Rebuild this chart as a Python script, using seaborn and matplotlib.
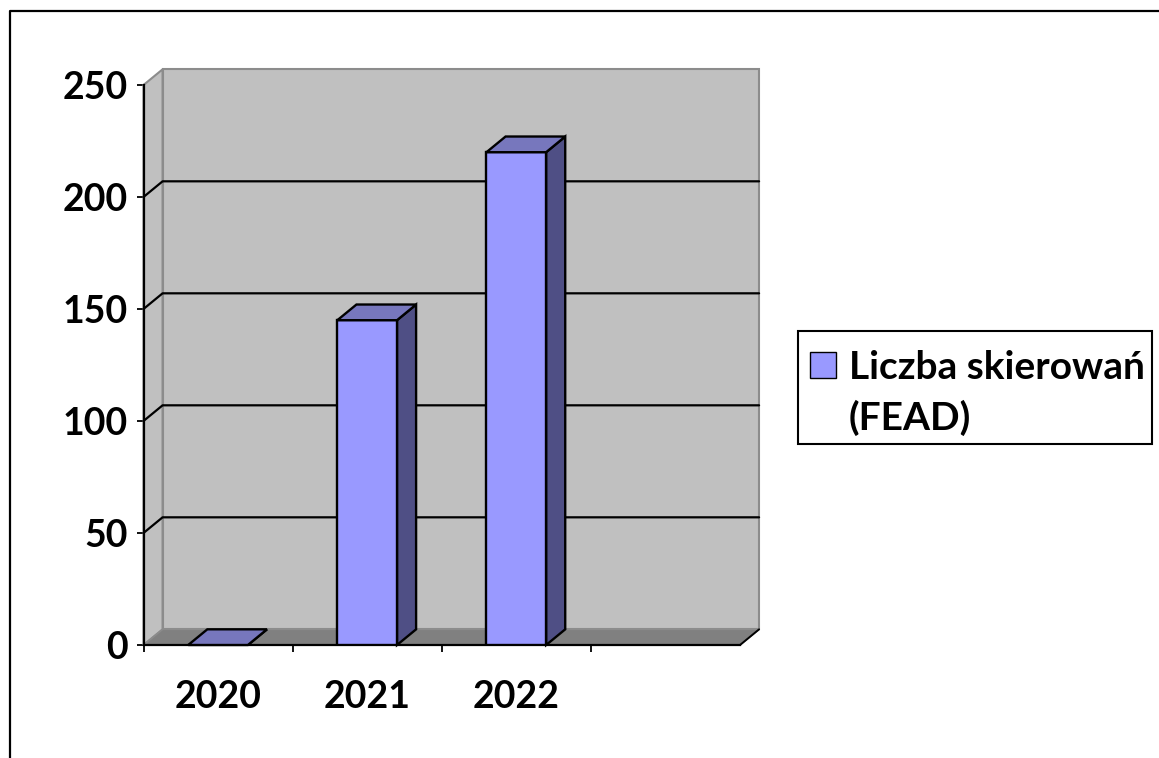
import numpy as np
import pandas as pd
import seaborn as sns
import matplotlib.pyplot as plt
from matplotlib.lines import Line2D
from matplotlib.patches import Patch, Polygon, Rectangle

# values
years = ["2020", "2021", "2022", ""]
referrals = [0, 145, 220, np.nan]
y_ticks = [0, 50, 100, 150, 200, 250]
series_lines = ["Liczba skierowań", "(FEAD)"]

# fake 3d depth, in data units
DEPTH_X = 0.128
DEPTH_Y = 7.0

FRONT = "#9999FF"
SIDE = "#4F4F85"
TOP = "#7777BD"
WALL = "#C0C0C0"
FLOOR = "#808080"
FONT_SIZE = 27

W, H = 1159, 758


def add_poly(ax, points, face, edge, lw=1.3, z=1):
    ax.add_patch(Polygon(points, closed=True, facecolor=face, edgecolor=edge,
                         linewidth=lw, zorder=z, clip_on=False))


sns.set_style("white")
plt.rcParams["font.family"] = ["Lato", "DejaVu Sans"]

fig = plt.figure(figsize=(W / 100, H / 100), dpi=100)
ax = fig.add_axes([143.5 / W, (H - 645) / H, 596.5 / W, 560 / H])
ax.patch.set_visible(False)

df = pd.DataFrame({"year": years, "count": referrals})
sns.barplot(data=df, x="year", y="count", order=years, color=FRONT, saturation=1,
            width=0.4, edgecolor="black", linewidth=1.7, ax=ax, zorder=3)

x0, x1 = -0.5, len(years) - 0.5
y1 = y_ticks[-1]

# walls and floor
add_poly(ax, [(x0, 0), (x0 + DEPTH_X, DEPTH_Y), (x0 + DEPTH_X, y1 + DEPTH_Y), (x0, y1)],
         WALL, "#8C8C8C", lw=1.5)
add_poly(ax, [(x0 + DEPTH_X, DEPTH_Y), (x1 + DEPTH_X, DEPTH_Y),
              (x1 + DEPTH_X, y1 + DEPTH_Y), (x0 + DEPTH_X, y1 + DEPTH_Y)],
         WALL, "#8C8C8C", lw=1.5)
add_poly(ax, [(x0, 0), (x1, 0), (x1 + DEPTH_X, DEPTH_Y), (x0 + DEPTH_X, DEPTH_Y)],
         FLOOR, "#8C8C8C", lw=1.2, z=1.2)
ax.plot([x1, x1 + DEPTH_X], [0, DEPTH_Y], color="black", lw=1.4, zorder=1.4,
        clip_on=False)

# grid lines run along the side wall and the back wall
for tick in y_ticks[1:-1]:
    ax.plot([x0, x0 + DEPTH_X, x1 + DEPTH_X], [tick, tick + DEPTH_Y, tick + DEPTH_Y],
            color="black", lw=1.6, zorder=1.5, clip_on=False)

# depth of the bars
for bar in ax.patches:
    if not isinstance(bar, plt.Rectangle) or np.isnan(bar.get_height()):
        continue
    left, h = bar.get_x(), bar.get_height()
    right = left + bar.get_width()
    add_poly(ax, [(right, 0), (right + DEPTH_X, DEPTH_Y),
                  (right + DEPTH_X, h + DEPTH_Y), (right, h)], SIDE, "black", lw=1.7, z=2.9)
    add_poly(ax, [(left, h), (right, h), (right + DEPTH_X, h + DEPTH_Y),
                  (left + DEPTH_X, h + DEPTH_Y)], TOP, "black", lw=1.7, z=3.1)

ax.set_xlim(x0, x1)
ax.set_ylim(0, y1)
ax.set_xlabel("")
ax.set_ylabel("")
ax.set_yticks(y_ticks)
ax.set_xticks(range(len(years)), labels=years)
ax.set_xticks(np.arange(x0, x1), minor=True)

ax.tick_params(axis="x", which="major", length=0, pad=25, labelsize=FONT_SIZE)
ax.tick_params(axis="x", which="minor", bottom=True, length=5, width=1.3, color="black")
ax.tick_params(axis="y", left=True, length=5, width=1.3, color="black", pad=6,
               labelsize=FONT_SIZE)
for label in ax.get_xticklabels() + ax.get_yticklabels():
    label.set_fontweight("bold")
    label.set_color("black")

sns.despine(ax=ax, top=True, right=True)
for side in ["left", "bottom"]:
    ax.spines[side].set_color("black")
    ax.spines[side].set_linewidth(1.6)
    ax.spines[side].set_zorder(2.5)

# legend box is drawn apart, its padding is not even on all sides
fig.add_artist(Rectangle((798 / W, (H - 444) / H), 354 / W, 113 / H, facecolor="white",
                         edgecolor="black", linewidth=1.5, zorder=-1,
                         transform=fig.transFigure))

# second row has no key so the label wraps under the first
handles = [Patch(facecolor=FRONT, edgecolor="black", linewidth=1.0),
           Patch(alpha=0)]
leg = ax.legend(handles, series_lines, loc="center left",
                bbox_to_anchor=(810 / W, (H - 393) / H), bbox_transform=fig.transFigure,
                frameon=False, prop={"weight": "bold", "size": 28}, handlelength=0.67,
                handleheight=0.67, handletextpad=0.33, labelspacing=0.40,
                borderpad=0, borderaxespad=0)
for text in leg.get_texts():
    text.set_color("black")

# outer chart border, cut by the picture edge
fig.add_artist(Line2D([10 / W, 10 / W, 1], [0, (H - 11) / H, (H - 11) / H],
                      color="black", lw=1.6))

fig.savefig("out.png", dpi=100)
